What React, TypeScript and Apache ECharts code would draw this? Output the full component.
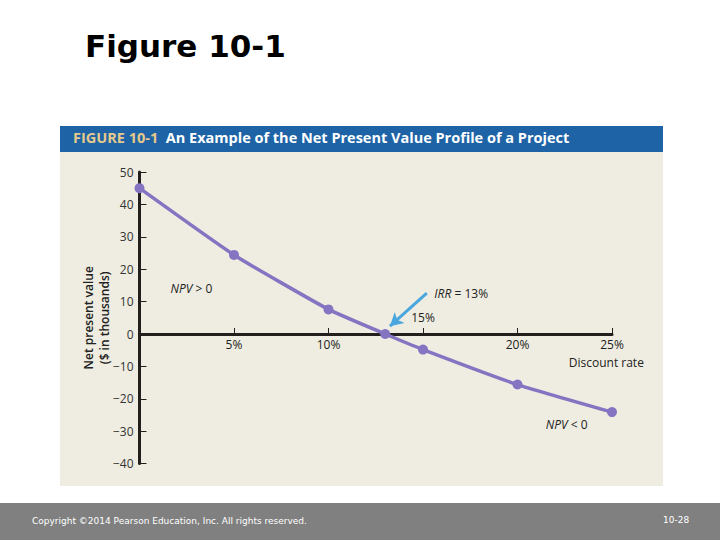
import React, { useEffect, useRef } from "react";
import * as echarts from "echarts";

const discountRates = [0, 5, 10, 13, 15, 20, 25];
const npvValues = [45, 24.4, 7.6, 0, -4.8, -15.6, -24.1];
const xTicks = [0, 5, 10, 15, 20, 25];
const yTicks = [-40, -30, -20, -10, 0, 10, 20, 30, 40, 50];

const PURPLE = "#8474c2";
const AXIS = "#231f1c";
const LABEL_FONT = "'Open Sans', 'Noto Sans', sans-serif";

export default function App() {
  const ref = useRef<HTMLDivElement>(null);
  useEffect(() => {
    if (!ref.current) return;
    const chart = echarts.init(ref.current, undefined, { renderer: "svg" });
    const data = discountRates.map((r, i) => [r, npvValues[i]]);
    const xLabelPoints = xTicks
      .filter((v) => v !== 0)
      .map((v) => ({
        coord: [v, 0],
        label: { formatter: v + "%", offset: v === 15 ? [0, -17] : [0, 10] },
      }));
    chart.setOption({
      animation: false,
      backgroundColor: "#ffffff",
      graphic: [
        { type: "rect", z: -10, shape: { x: 60, y: 126, width: 603, height: 360 }, style: { fill: "#efede1" } },
        { type: "rect", z: -9, shape: { x: 60, y: 126, width: 603, height: 26 }, style: { fill: "#1d63a6" } },
        {
          type: "text", z: -8, left: 73, top: 130,
          style: {
            rich: {
              a: { fill: "#e6c98c", fontWeight: "bold", fontSize: 14.5, fontFamily: LABEL_FONT },
              b: { fill: "#ffffff", fontWeight: "bold", fontSize: 14.5, fontFamily: LABEL_FONT },
            },
            text: "{a|FIGURE 10-1}{b|  An Example of the Net Present Value Profile of a Project}",
          },
        },
        {
          type: "text", left: 85, top: 30,
          style: { text: "Figure 10-1", fill: "#000", fontSize: 31, fontWeight: "bold", fontFamily: "'DejaVu Sans', Verdana, sans-serif" },
        },
        { type: "rect", z: -10, shape: { x: 0, y: 503, width: 720, height: 37 }, style: { fill: "#808080" } },
        {
          type: "text", left: 32, top: 516,
          style: { text: "Copyright ©2014 Pearson Education, Inc. All rights reserved.", fill: "#ffffff", fontSize: 9, fontFamily: "'DejaVu Sans', sans-serif" },
        },
        {
          type: "text", left: 663, top: 515,
          style: { text: "10-28", fill: "#ffffff", fontSize: 9, fontFamily: "'DejaVu Sans', sans-serif" },
        },
      ],
      grid: { left: 139.5, right: 108, top: 172, bottom: 76.4, containLabel: false },
      xAxis: {
        type: "value",
        min: xTicks[0],
        max: xTicks[xTicks.length - 1],
        interval: 5,
        axisLine: { onZero: true, lineStyle: { color: AXIS, width: 3 } },
        axisTick: { inside: true, length: 6, lineStyle: { color: AXIS, width: 1 } },
        splitLine: { show: false },
        axisLabel: { show: false },
      },
      yAxis: {
        type: "value",
        min: yTicks[0],
        max: yTicks[yTicks.length - 1],
        interval: 10,
        name: "Net present value\n($ in thousands)",
        nameLocation: "middle",
        nameRotate: 90,
        nameGap: 27,
        nameMoveOverlap: false,
        nameTextStyle: { color: "#222", fontSize: 12, fontWeight: 600, fontFamily: LABEL_FONT, lineHeight: 16 },
        axisLine: { onZero: false, lineStyle: { color: AXIS, width: 3 } },
        axisTick: { inside: true, length: 7, lineStyle: { color: AXIS, width: 1 } },
        splitLine: { show: false },
        axisLabel: {
          color: "#333",
          fontSize: 12,
          fontFamily: LABEL_FONT,
          margin: 6,
          formatter: (v: number) => (v < 0 ? "\u2212" + Math.abs(v) : String(v)),
        },
      },
      series: [
        {
          type: "line",
          data,
          smooth: 0.15,
          symbol: "circle",
          symbolSize: 10,
          lineStyle: { color: PURPLE, width: 3.5 },
          itemStyle: { color: PURPLE },
          z: 5,
          markPoint: {
            symbol: "circle",
            symbolSize: 0,
            silent: true,
            data: [
              ...xLabelPoints,
              { coord: [2.75, 14], label: { formatter: "{i|NPV} > 0" } },
              { coord: [15.6, 12.6], label: { formatter: "{i|IRR} = 13%", align: "left" } },
              { coord: [22.6, -27.8], label: { formatter: "{i|NPV} < 0" } },
              { coord: [24.7, -8.7], label: { formatter: "Discount rate" } },
            ],
            label: {
              show: true,
              position: "inside",
              color: "#222",
              fontSize: 12,
              fontFamily: LABEL_FONT,
              rich: { i: { fontStyle: "italic", color: "#222", fontSize: 12, fontFamily: LABEL_FONT } },
            },
          },
          markLine: {
            silent: true,
            symbol: ["none", "arrow"],
            symbolSize: [11, 13],
            label: { show: false },
            lineStyle: { color: "#4aa6de", width: 3, type: "solid" },
            data: [[{ coord: [15.2, 12.6] }, { coord: [13.25, 2.4] }]],
          },
        },
      ],
    });
    return () => chart.dispose();
  }, []);
  return <div ref={ref} style={{ position: "absolute", left: 0, top: 0, width: 720, height: 540 }} />;
}
